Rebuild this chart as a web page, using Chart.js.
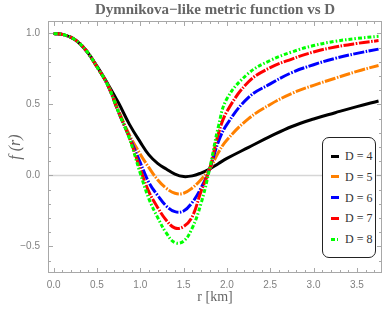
<!DOCTYPE html>
<html>
<head>
<meta charset="utf-8">
<script src="https://cdn.jsdelivr.net/npm/chart.js@4.4.0/dist/chart.umd.min.js"></script>
<style>
  html, body { margin: 0; padding: 0; background: #fff; }
  #wrap { position: relative; width: 386px; height: 321px; }
  #legend {
    position: absolute; left: 322px; top: 137px; width: 52px; height: 119px;
    border: 1.5px solid #222; border-radius: 7px; background: #fff;
    font-family: "Liberation Serif", serif; font-size: 12px; color: #333;
  }
  .row { position: absolute; left: 0; width: 52px; height: 14px; line-height: 14px; }
  .swatch { position: absolute; left: 8px; top: 5.5px; width: 8px; height: 3px; }
  .lbl { position: absolute; left: 22px; top: 0; white-space: pre; }
</style>
</head>
<body>
<div id="wrap">
  <canvas id="chart" width="386" height="321"></canvas>
  <div id="legend"></div>
</div>
<script>
// r values (km) sampled along the curves
const rValues = [0, 0.125, 0.25, 0.375, 0.5, 0.625, 0.75, 0.875, 1.0, 1.1, 1.2, 1.3, 1.4, 1.5, 1.6, 1.7, 1.8, 1.9, 2.0, 2.25, 2.5, 2.75, 3.0, 3.25, 3.5, 3.75];

// f(r) for each D
const fD4 = [1, 0.99, 0.955, 0.88, 0.77, 0.645, 0.51, 0.36, 0.235, 0.145, 0.085, 0.045, 0.01, -0.008, -0.003, 0.017, 0.045, 0.083, 0.12, 0.198, 0.275, 0.345, 0.398, 0.442, 0.485, 0.525];
const fD5 = [1, 0.99, 0.955, 0.88, 0.765, 0.64, 0.455, 0.285, 0.15, 0.055, -0.03, -0.09, -0.125, -0.125, -0.088, -0.03, 0.045, 0.16, 0.25, 0.40, 0.50, 0.578, 0.635, 0.685, 0.733, 0.775];
const fD6 = [1, 0.99, 0.955, 0.88, 0.765, 0.635, 0.445, 0.27, 0.09, -0.05, -0.14, -0.215, -0.255, -0.25, -0.19, -0.09, 0.045, 0.235, 0.36, 0.55, 0.645, 0.725, 0.78, 0.825, 0.86, 0.89];
const fD7 = [1, 0.99, 0.955, 0.88, 0.765, 0.635, 0.445, 0.265, 0.045, -0.115, -0.225, -0.315, -0.37, -0.36, -0.29, -0.115, 0.045, 0.29, 0.45, 0.66, 0.76, 0.82, 0.87, 0.905, 0.93, 0.95];
const fD8 = [1, 0.99, 0.955, 0.88, 0.765, 0.635, 0.445, 0.26, 0.015, -0.165, -0.295, -0.405, -0.473, -0.463, -0.37, -0.20, 0.045, 0.34, 0.54, 0.72, 0.81, 0.87, 0.915, 0.945, 0.965, 0.98];

const seriesLabels = ["D = 4", "D = 5", "D = 6", "D = 7", "D = 8"];
const seriesColors = ["#000000", "#ff8000", "#0000ff", "#ff0000", "#00ff00"];
const seriesDash = [[], [11, 1.5, 1.5, 1.5], [11, 1.5, 1.5, 1.5], [11, 1.5, 1.5, 1.5], [4, 2, 1.5, 2]];
const seriesValues = [fD4, fD5, fD6, fD7, fD8];

const xTickLabels = [0, 0.5, 1.0, 1.5, 2.0, 2.5, 3.0, 3.5];
const yTickLabels = [-0.5, 0, 0.5, 1.0];

const titleText = "Dymnikova\u2212like metric function vs D";

function fmt(v) {
  const s = Math.abs(v).toFixed(1);
  return v < 0 ? "\u2212" + s : s;
}

// frame, inward ticks, zero line and title
const framePlugin = {
  id: "frame",
  beforeDatasetsDraw(chart) {
    const { ctx, chartArea: a, scales: { y } } = chart;
    const y0 = y.getPixelForValue(0);
    ctx.save();
    ctx.strokeStyle = "#d6d6d6";
    ctx.lineWidth = 1.5;
    ctx.beginPath();
    ctx.moveTo(a.left, y0);
    ctx.lineTo(a.right, y0);
    ctx.stroke();
    ctx.restore();
  },
  afterDraw(chart) {
    const { ctx, chartArea: a, scales: { x, y } } = chart;
    ctx.save();
    ctx.strokeStyle = "#a8a8a8";
    ctx.lineWidth = 1;
    ctx.strokeRect(a.left + 0.5, a.top + 0.5, a.right - a.left - 1, a.bottom - a.top - 1);
    ctx.beginPath();
    for (let k = 0; k <= 38; k++) {
      const px = Math.round(x.getPixelForValue(k / 10)) + 0.5;
      if (px < a.left || px > a.right) continue;
      const len = k % 5 === 0 ? 5 : 3;
      ctx.moveTo(px, a.bottom);
      ctx.lineTo(px, a.bottom - len);
      ctx.moveTo(px, a.top);
      ctx.lineTo(px, a.top + len);
    }
    for (let k = -6; k <= 10; k++) {
      const py = Math.round(y.getPixelForValue(k / 10)) + 0.5;
      if (py < a.top || py > a.bottom) continue;
      const len = k % 5 === 0 ? 5 : 3;
      ctx.moveTo(a.left, py);
      ctx.lineTo(a.left + len, py);
      ctx.moveTo(a.right, py);
      ctx.lineTo(a.right - len, py);
    }
    ctx.stroke();

    ctx.fillStyle = "#666";
    ctx.font = "bold 15px 'Liberation Serif', serif";
    ctx.textAlign = "center";
    ctx.textBaseline = "middle";
    ctx.fillText(titleText, (a.left + a.right) / 2, 10.5);
    ctx.restore();
  }
};

const datasets = seriesValues.map((vals, i) => ({
  label: seriesLabels[i],
  data: rValues.map((r, j) => ({ x: r, y: vals[j] })),
  borderColor: seriesColors[i],
  backgroundColor: seriesColors[i],
  borderWidth: 3,
  borderDash: seriesDash[i],
  pointRadius: 0,
  fill: false,
  tension: 0.4,
  order: 5 - i
}));

new Chart(document.getElementById("chart"), {
  type: "line",
  data: { datasets },
  options: {
    responsive: false,
    animation: false,
    layout: { padding: { top: 21, right: 4, left: 0, bottom: 0 } },
    plugins: { legend: { display: false }, tooltip: { enabled: false }, title: { display: false } },
    scales: {
      x: {
        type: "linear",
        min: -0.065,
        max: 3.79,
        afterFit: (s) => { s.height = 48; },
        afterBuildTicks: (s) => { s.ticks = xTickLabels.map((v) => ({ value: v })); },
        grid: { display: false, drawTicks: false },
        border: { display: false },
        ticks: {
          padding: 6,
          color: "#808080",
          font: { family: "'Liberation Sans', sans-serif", size: 10 },
          maxRotation: 0,
          autoSkip: false,
          callback: (v) => fmt(v)
        },
        title: {
          display: true,
          text: "r [km]",
          color: "#666",
          font: { family: "'Liberation Serif', serif", size: 14 },
          padding: { top: 0, bottom: 15 }
        }
      },
      y: {
        type: "linear",
        min: -0.687,
        max: 1.088,
        afterFit: (s) => { s.width = 48; },
        afterBuildTicks: (s) => { s.ticks = yTickLabels.map((v) => ({ value: v })); },
        grid: { display: false, drawTicks: false },
        border: { display: false },
        ticks: {
          padding: 8,
          color: "#808080",
          font: { family: "'Liberation Sans', sans-serif", size: 10 },
          autoSkip: false,
          callback: (v) => fmt(v)
        },
        title: {
          display: true,
          text: "f (r)",
          color: "#666",
          font: { family: "'Liberation Serif', serif", size: 16, style: "italic" },
          padding: { top: 6, bottom: 0 }
        }
      }
    }
  },
  plugins: [framePlugin]
});

// legend box
const legend = document.getElementById("legend");
seriesLabels.forEach((lab, i) => {
  const row = document.createElement("div");
  row.className = "row";
  row.style.top = (11 + i * 20.8) + "px";
  const sw = document.createElement("span");
  sw.className = "swatch";
  if (i === 4) {
    sw.style.background = "linear-gradient(to right, #00ff00 0 4px, transparent 4px 6px, #00ff00 6px 7.5px, transparent 7.5px)";
  } else {
    sw.style.background = seriesColors[i];
  }
  const tx = document.createElement("span");
  tx.className = "lbl";
  tx.textContent = lab;
  row.appendChild(sw);
  row.appendChild(tx);
  legend.appendChild(row);
});
</script>
</body>
</html>
